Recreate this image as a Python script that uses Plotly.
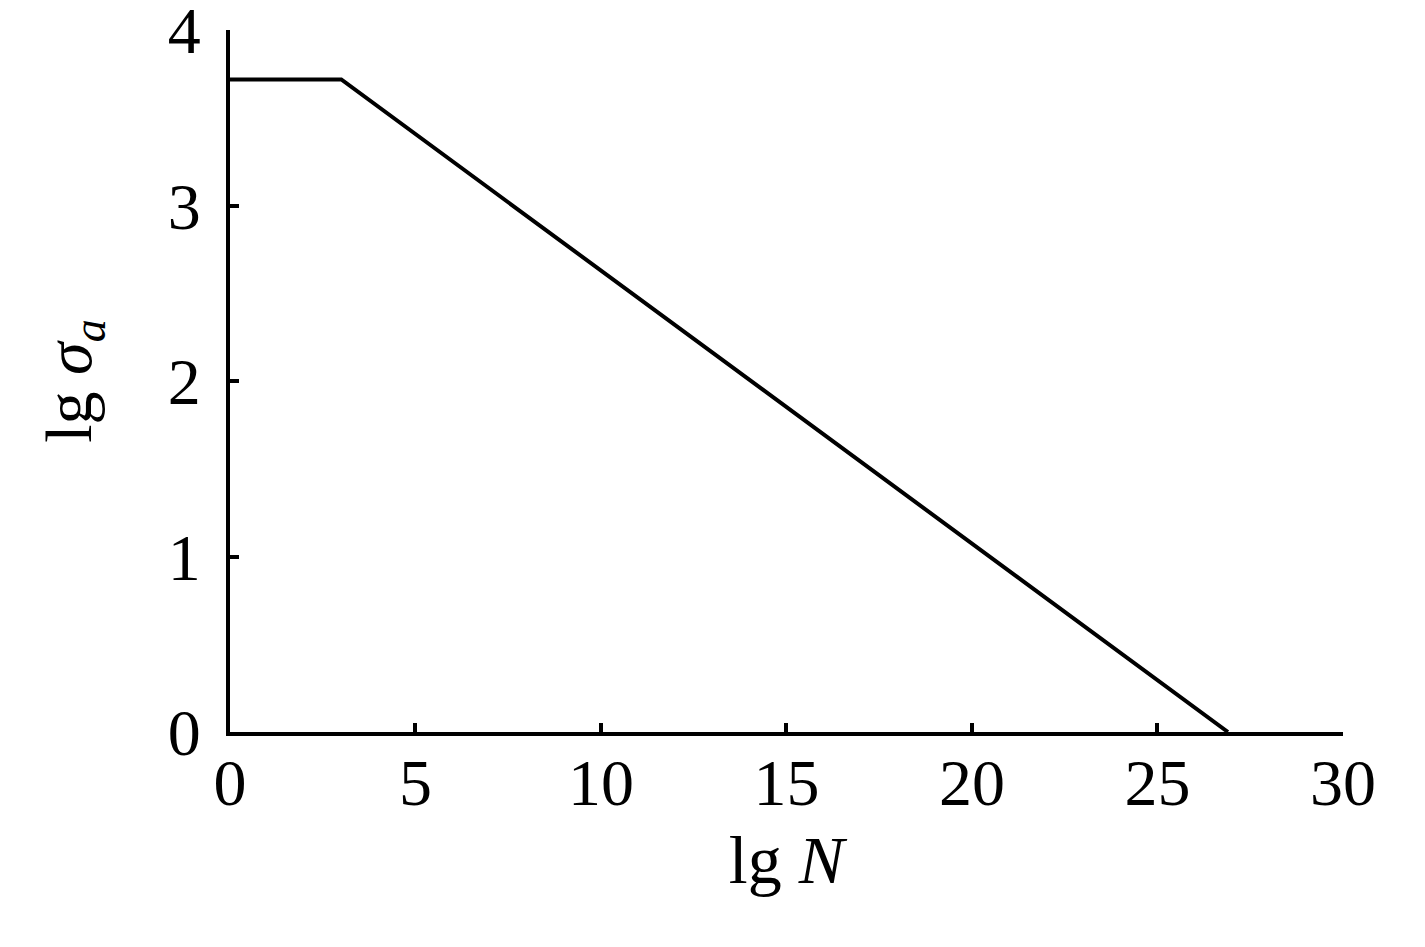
import plotly.graph_objects as go

lgN = [0, 3, 26.9]
lg_sigma = [3.72, 3.72, 0]
x_ticks = [0, 5, 10, 15, 20, 25, 30]
y_ticks = [0, 1, 2, 3, 4]

FONT = "Liberation Serif, Times New Roman, serif"

fig = go.Figure()
fig.add_trace(go.Scatter(x=lgN, y=lg_sigma, mode="lines",
                         line=dict(color="black", width=4),
                         showlegend=False, cliponaxis=False))

fig.update_layout(
    width=1425, height=947,
    margin=dict(l=222, r=90, t=22, b=223, autoexpand=False),
    paper_bgcolor="white", plot_bgcolor="white",
    font=dict(family=FONT, size=66, color="black"),
    xaxis=dict(range=[0, 30.001], tickvals=x_ticks, ticktext=[str(v) for v in x_ticks],
               showgrid=False, zeroline=False, showline=True, linecolor="black",
               linewidth=4, ticks="inside", ticklen=9, tickwidth=3.5, tickcolor="black",
               ticklabelstandoff=-10, ticklabeloverflow="allow", automargin=False,
               title=dict(text="lg <i>N</i>", font=dict(size=68), standoff=18)),
    yaxis=dict(range=[0, 4.002], tickvals=y_ticks, ticktext=[str(v) for v in y_ticks],
               showgrid=False, zeroline=False, showline=True, linecolor="black",
               linewidth=4, ticks="inside", ticklen=9, tickwidth=3.5, tickcolor="black",
               ticklabelstandoff=12, ticklabeloverflow="allow", automargin=False,
               title=dict(text="lg <i>σ</i><sub><i>a</i></sub>", font=dict(size=66), standoff=56)),
)

fig.write_html("out.html")
